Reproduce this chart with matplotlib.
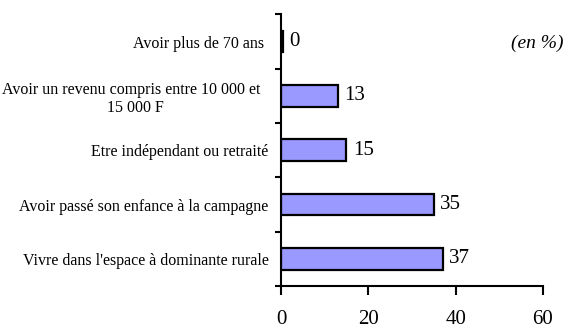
import matplotlib
matplotlib.use("Agg")
import matplotlib.pyplot as plt

categories = [
    "Avoir plus de 70 ans ",
    "Avoir un revenu compris entre 10 000 et  \n15 000 F",
    "Etre indépendant ou retraité",
    "Avoir passé son enfance à la campagne",
    "Vivre dans l'espace à dominante rurale",
]
values = [0.4, 13, 15, 35, 37]
x_ticks = [0, 20, 40, 60]

plt.rcParams["font.family"] = ["Liberation Serif", "DejaVu Serif"]

fig = plt.figure(figsize=(5.65, 3.29), dpi=100)
ax = fig.add_axes([0.4973, 0.1307, 0.4637, 0.8253])

pos = list(range(len(categories)))
ax.barh(pos, values, height=0.4, color="#9999FF", edgecolor="black", linewidth=1.6)

for p, v in zip(pos, values):
    ax.text(v + 1.5, p, f"{v:.0f}", va="center", ha="left", fontsize=15)

ax.set_xlim(0, 60)
ax.set_ylim(len(categories) - 0.5, -0.5)
ax.set_xticks(x_ticks)
ax.set_xticklabels([str(t) for t in x_ticks], fontsize=15)
ax.tick_params(axis="x", direction="out", length=6.5, width=1.5, pad=11)

# band boundaries carry the tick marks, band centres carry the labels
ax.set_yticks([p - 0.5 for p in pos] + [len(pos) - 0.5])
ax.set_yticklabels([])
ax.tick_params(axis="y", which="major", direction="out", length=4.5, width=1.5)
ax.set_yticks(pos, minor=True)
ax.set_yticklabels(categories, minor=True, fontsize=11.5, multialignment="center")
ax.tick_params(axis="y", which="minor", length=0, pad=9)

for side in ("top", "right"):
    ax.spines[side].set_visible(False)
for side in ("left", "bottom"):
    ax.spines[side].set_linewidth(1.5)

fig.text(0.997, 0.869, "(en %)", ha="right", va="center", fontsize=14, style="italic")

fig.savefig("out.png", dpi=100)
